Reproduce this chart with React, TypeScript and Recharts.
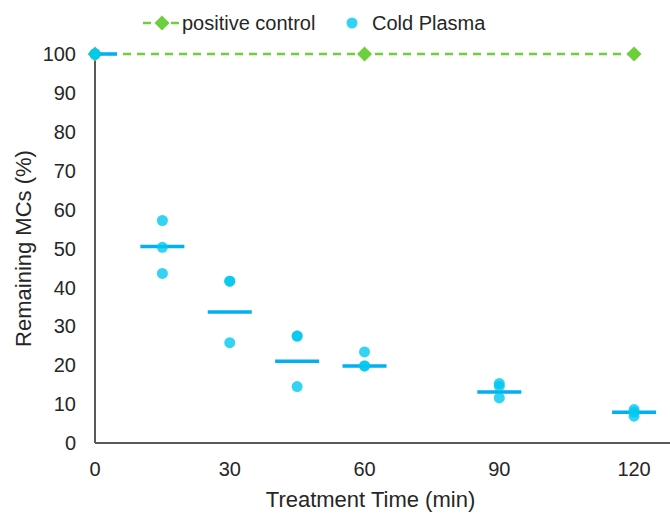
import React from 'react'
import {
  ComposedChart, Line, Scatter, XAxis, YAxis, Label,
} from 'recharts'

const times = [0, 15, 30, 45, 60, 90, 120]
const replicates = [
  [100, 100, 100],
  [57.2, 50.3, 43.6],
  [41.6, 41.6, 25.8],
  [27.5, 27.5, 14.5],
  [23.4, 19.8, 19.8],
  [15.3, 14.6, 11.6],
  [8.6, 7.9, 6.9],
]
const means = [100, 50.5, 33.7, 21.0, 19.8, 13.1, 7.9]
const controlTimes = [0, 60, 120]
const controlValues = [100, 100, 100]
const xTicks = [0, 30, 60, 90, 120]
const yTicks = [0, 10, 20, 30, 40, 50, 60, 70, 80, 90, 100]

const GREEN = '#6ccf3c'
const DOT = '#00c8f0'
const MEAN = '#00b0f0'
const FONT = '"Liberation Sans", Arial, sans-serif'

const dots = times.flatMap((t, i) => replicates[i].map(v => ({ x: t, y: v })))
const meanData = times.map((t, i) => ({ x: t, y: means[i] }))
const controlData = controlTimes.map((t, i) => ({ x: t, y: controlValues[i] }))

const Diamond = (p: any) => {
  const { cx, cy } = p
  if (cx == null || cy == null) return null
  const r = 7.5
  return <path key={p.index} d={`M${cx - r},${cy}L${cx},${cy - r}L${cx + r},${cy}L${cx},${cy + r}Z`} fill={GREEN} />
}

const Dot = (p: any) => <circle cx={p.cx} cy={p.cy} r={5.5} fill={DOT} fillOpacity={0.8} />

const MeanBar = (p: any) => {
  const half = 22
  const x1 = p.payload.x === 0 ? p.cx : p.cx - half
  return <line x1={x1} x2={p.cx + half} y1={p.cy} y2={p.cy} stroke={MEAN} strokeWidth={3.5} />
}

function LegendBox() {
  return (
    <svg width={670} height={45} style={{ position: 'absolute', left: 0, top: 0 }}>
      <line x1={143} x2={180} y1={23} y2={23} stroke={GREEN} strokeWidth={2.5} strokeDasharray="8 6" />
      <path d="M154.5,23L162,15.5L169.5,23L162,30.5Z" fill={GREEN} />
      <text x={182} y={30} fontSize={20} fontFamily={FONT} fill="#262626">positive control</text>
      <circle cx={352} cy={23} r={5.5} fill={DOT} fillOpacity={0.8} />
      <text x={372} y={30} fontSize={20} fontFamily={FONT} fill="#262626">Cold Plasma</text>
    </svg>
  )
}

export default function App() {
  const tick = { fontSize: 20, fill: '#262626', fontFamily: FONT }
  return (
    <div style={{ position: 'absolute', left: 0, top: 0, width: 670, height: 513, background: '#fff' }}>
      <ComposedChart width={670} height={513} margin={{ top: 54, right: 0, bottom: 0, left: 0 }}>
        <XAxis
          type="number" dataKey="x" domain={[0, 128]} ticks={xTicks}
          height={70} tickLine={false} tickMargin={13} tick={tick}
          axisLine={{ stroke: '#595959', strokeWidth: 2 }}
        >
          <Label value="Treatment Time (min)" position="center" dx={-12} dy={21}
            style={{ fontSize: 22, fill: '#262626', fontFamily: FONT }} />
        </XAxis>
        <YAxis
          type="number" dataKey="y" domain={[0, 100]} ticks={yTicks}
          width={95} tickLine={false} tickMargin={13} tick={tick}
          axisLine={{ stroke: '#595959', strokeWidth: 2 }}
        >
          <Label value="Remaining MCs (%)" angle={-90} position="center" dx={-24}
            style={{ fontSize: 22, fill: '#262626', fontFamily: FONT, textAnchor: 'middle' }} />
        </YAxis>
        <Line data={controlData} dataKey="y" stroke={GREEN} strokeWidth={2.5} strokeDasharray="8 6"
          dot={Diamond} activeDot={false} isAnimationActive={false} />
        <Scatter data={meanData} dataKey="y" shape={MeanBar} isAnimationActive={false} />
        <Scatter data={dots} dataKey="y" shape={Dot} isAnimationActive={false} />
      </ComposedChart>
      <LegendBox />
    </div>
  )
}
